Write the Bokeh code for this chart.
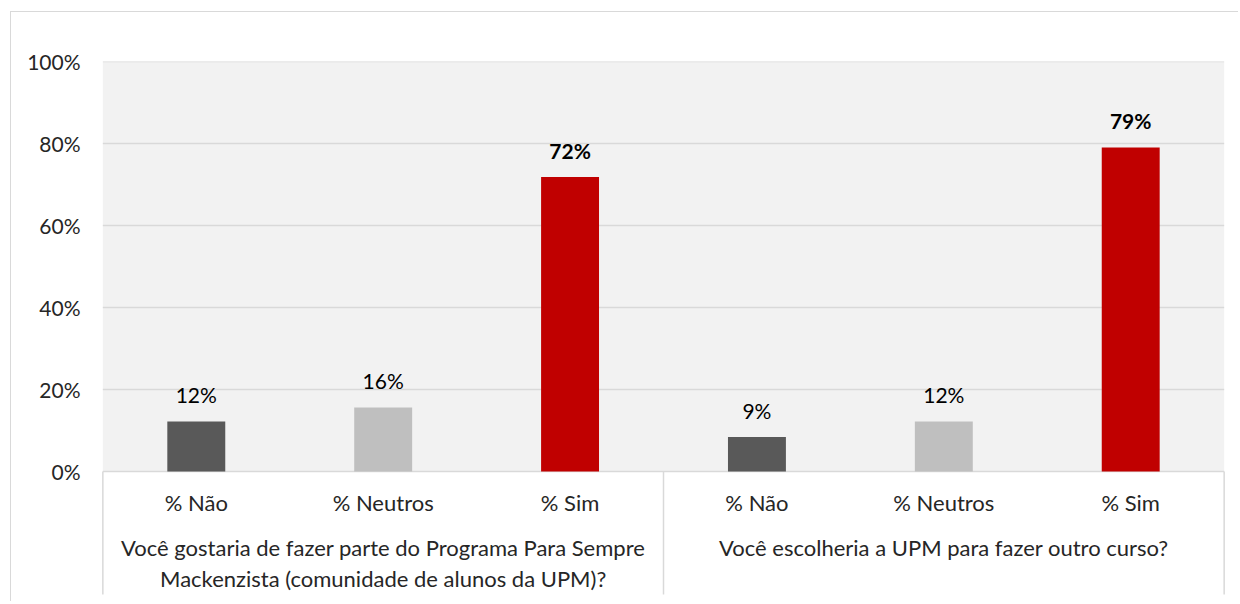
from bokeh.plotting import figure
from bokeh.models import Range1d, FixedTicker, ColumnDataSource
from bokeh.core.properties import value
from bokeh.embed import file_html
from bokeh.resources import INLINE

# ---------------- data ----------------
groups = [
    "Você gostaria de fazer parte do Programa Para Sempre\nMackenzista (comunidade de alunos da UPM)?",
    "Você escolheria a UPM para fazer outro curso?",
]
categories = ["% Não", "% Neutros", "% Sim"]
values_q1 = [12.2, 15.6, 71.8]
values_q2 = [8.4, 12.2, 79.0]
labels_q1 = ["12%", "16%", "72%"]
labels_q2 = ["9%", "12%", "79%"]
y_ticks = [0, 20, 40, 60, 80, 100]
y_tick_labels = ["0%", "20%", "40%", "60%", "80%", "100%"]

colors = ["#595959", "#BFBFBF", "#C00000"]
label_styles = ["normal", "normal", "bold"]
FONT = "Lato"
TXT = "#262626"

# ---------------- geometry ----------------
W, H = 1228, 590
top_border = 49
px_per_unit_y = 410 / 100.0
frame_h = H - top_border
y_start = 100 - frame_h / px_per_unit_y

p = figure(width=W, height=H, output_backend="svg", toolbar_location=None,
           x_range=Range1d(-0.05, 6.05), y_range=Range1d(y_start, 100),
           x_axis_type=None, min_border_left=82, min_border_right=6,
           min_border_top=top_border, min_border_bottom=0,
           background_fill_color="white", border_fill_color="white",
           outline_line_color=None)
p.margin = (11, 0, 0, 10)
p.styles = {"border-left": "1px solid #D9D9D9", "border-top": "1px solid #D9D9D9"}
p.xgrid.visible = False
p.ygrid.visible = False

# y axis
ax = p.yaxis[0]
ax.ticker = FixedTicker(ticks=y_ticks)
ax.major_label_overrides = {t: l for t, l in zip(y_ticks, y_tick_labels)}
ax.axis_line_color = None
ax.major_tick_line_color = None
ax.minor_tick_line_color = None
ax.major_label_standoff = 7
ax.major_label_text_font = FONT
ax.major_label_text_font_size = "21px"
ax.major_label_text_color = TXT

n_cat = len(categories)
n_all = n_cat * len(groups)

# plot area background
p.quad(left=[0], right=[n_all], bottom=[y_ticks[0]], top=[y_ticks[-1]],
       fill_color="#F2F2F2", line_color=None)
# gridlines
p.segment(x0=[0] * len(y_ticks), x1=[n_all] * len(y_ticks), y0=y_ticks, y1=y_ticks,
          line_color="#D9D9D9", line_width=1.5)
# category separators
sep_x = [g * n_cat for g in range(len(groups) + 1)]
p.segment(x0=sep_x, x1=sep_x, y0=[0] * len(sep_x), y1=[-30] * len(sep_x),
          line_color="#D9D9D9", line_width=1.5)

xs, vals, cols, labs, styles, cats = [], [], [], [], [], []
for gi, (vs, ls) in enumerate([(values_q1, labels_q1), (values_q2, labels_q2)]):
    for ci in range(n_cat):
        xs.append(gi * n_cat + ci + 0.5)
        vals.append(vs[ci])
        cols.append(colors[ci])
        labs.append(ls[ci])
        styles.append(label_styles[ci])
        cats.append(categories[ci])

src = ColumnDataSource(dict(x=xs, top=vals, color=cols, label=labs, style=styles, cat=cats))
p.vbar(x="x", top="top", bottom=0, width=0.31, fill_color="color", line_color=None, source=src)

# data labels
p.text(x="x", y="top", text="label", source=src, text_align="center",
       text_baseline="alphabetic", y_offset=-27, text_font=value(FONT),
       text_font_size="21px", text_font_style="style", text_color="#000000")

# category labels
p.text(x="x", y=-7.6, text="cat", source=src, text_align="center",
       text_baseline="middle", text_font=value(FONT), text_font_size="22px",
       text_color=TXT)

# group labels
gx = [g * n_cat + n_cat / 2 for g in range(len(groups))]
p.text(x=gx, y=[-15.2] * len(groups), text=groups, text_align="center",
       text_baseline="top", text_font=value(FONT), text_font_size="22px",
       text_line_height=1.15, text_color=TXT)

open("out.html", "w").write(file_html(p, INLINE))
